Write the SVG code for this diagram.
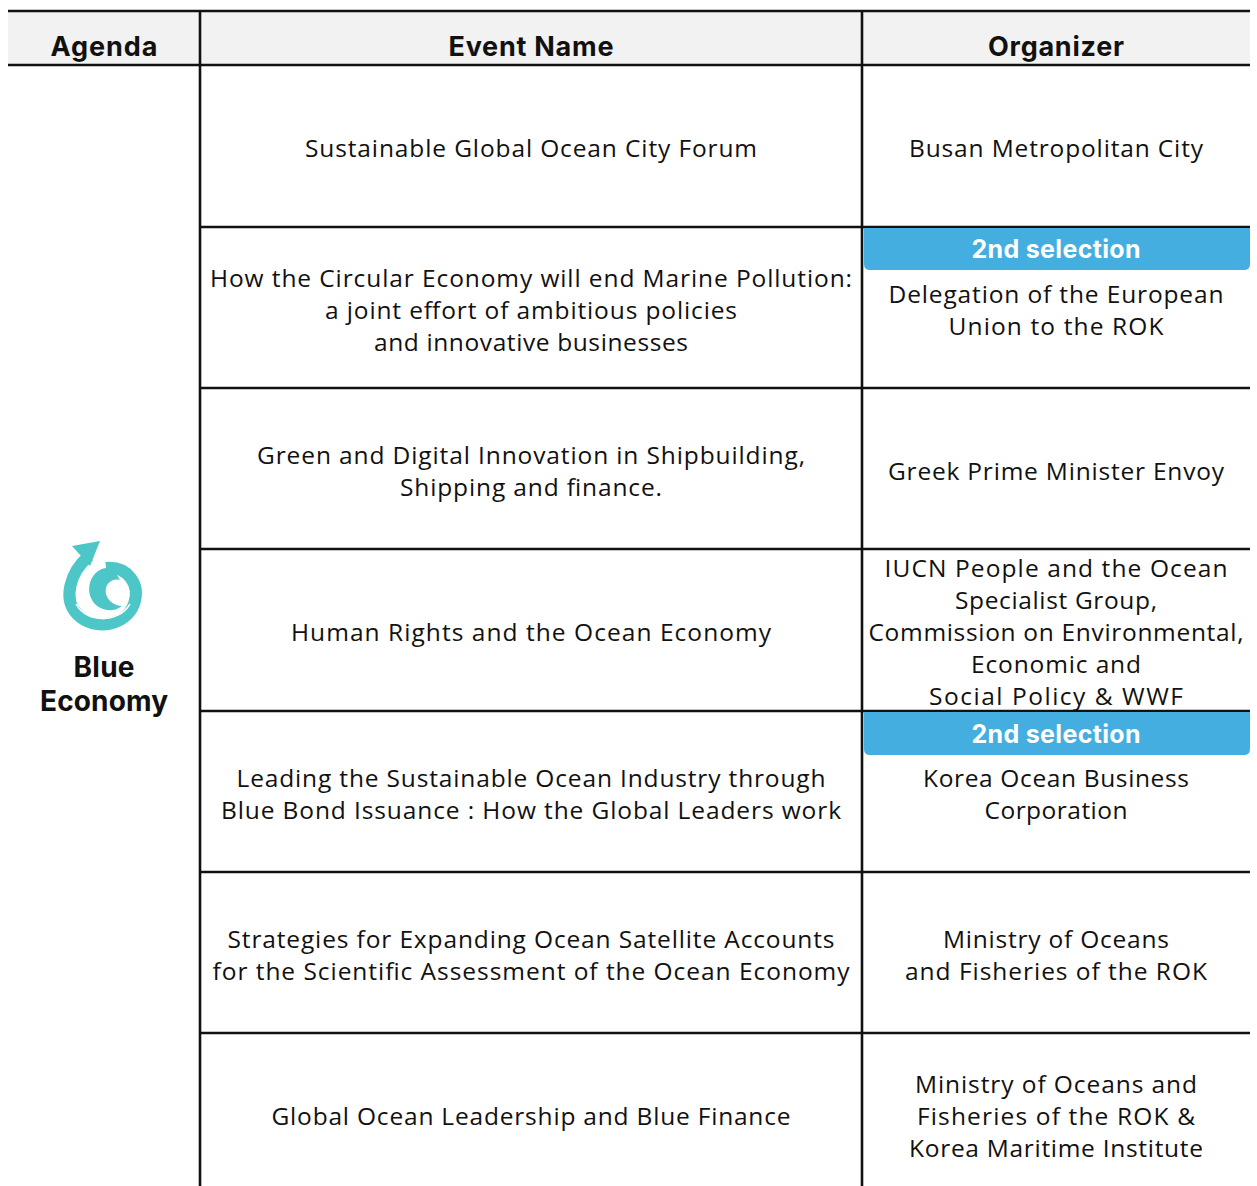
<svg xmlns="http://www.w3.org/2000/svg" width="1257" height="1186" viewBox="0 0 1257 1186">
<style>
.hd{font-family:Inter,"Liberation Sans",sans-serif;font-weight:700;font-size:27px;fill:#111;text-anchor:middle}
.tx{font-family:"Open Sans","Noto Sans",sans-serif;font-size:24.5px;fill:#111;text-anchor:middle}
.bd{font-family:Inter,"Liberation Sans",sans-serif;font-weight:700;font-size:25px;fill:#fff;text-anchor:middle}
.ag{font-family:Inter,"Liberation Sans",sans-serif;font-weight:700;font-size:28px;fill:#111;text-anchor:middle}
.ln{stroke:#111;stroke-width:2.6;fill:none}
.badge{fill:#45aee0}
</style>
<rect x="0" y="0" width="1257" height="1186" fill="#fff"/>
<rect x="8" y="10" width="1242" height="55" fill="#f2f2f2"/>
<g id="grid">
<line class="ln" x1="8" y1="11" x2="1250" y2="11"/>
<line class="ln" x1="8" y1="65" x2="1250" y2="65"/>
<line class="ln" x1="200" y1="10" x2="200" y2="1186"/>
<line class="ln" x1="862" y1="10" x2="862" y2="1186"/>
<line class="ln" x1="200" y1="227" x2="1250" y2="227"/>
<line class="ln" x1="200" y1="388" x2="1250" y2="388"/>
<line class="ln" x1="200" y1="549" x2="1250" y2="549"/>
<line class="ln" x1="200" y1="711" x2="1250" y2="711"/>
<line class="ln" x1="200" y1="872" x2="1250" y2="872"/>
<line class="ln" x1="200" y1="1033" x2="1250" y2="1033"/>
</g>
<g id="header">
<text class="hd" x="104" y="56" textLength="107">Agenda</text>
<text class="hd" x="531" y="56" textLength="165">Event Name</text>
<text class="hd" x="1056" y="56" textLength="136">Organizer</text>
</g>
<g id="agenda">
<g id="icon" fill="#4cc6c6">
<path d="M89 556 C70 572 62 600 78 615 C94 631 126 626 134 604 C141 584 127 566 106 568" stroke="#4cc6c6" stroke-width="12" fill="none"/>
<polygon points="100,541 72,546 90,566"/>
<path d="M106 568 C92 570 86 586 91 598 C96 610 112 614 122 606 C116 606 108 602 106 594 C104 584 112 578 120 580 C116 572 112 569 106 568 Z"/>
<circle cx="113" cy="591" r="5" fill="#fff"/>
<path d="M76 604 C86 623 118 624 130 604" stroke="#fff" stroke-width="1.5" fill="none"/>
</g>
<text class="ag" x="104" y="677" textLength="61">Blue</text>
<text class="ag" x="104" y="711" textLength="128">Economy</text>
</g>
<g id="row1">
<text class="tx" x="531" y="157" textLength="452">Sustainable Global Ocean City Forum</text>
<text class="tx" x="1056" y="157" textLength="294">Busan Metropolitan City</text>
</g>
<g id="row2">
<text class="tx" x="531" y="287" textLength="642">How the Circular Economy will end Marine Pollution:</text>
<text class="tx" x="531" y="319" textLength="412">a joint effort of ambitious policies</text>
<text class="tx" x="531" y="351" textLength="314">and innovative businesses</text>
<path class="badge" d="M864 228 H1250 V264 Q1250 270 1244 270 H870 Q864 270 864 264 Z"/>
<text class="bd" x="1056" y="258" textLength="169">2nd selection</text>
<text class="tx" x="1056" y="303" textLength="335">Delegation of the European</text>
<text class="tx" x="1056" y="335" textLength="215">Union to the ROK</text>
</g>
<g id="row3">
<text class="tx" x="531" y="464" textLength="548">Green and Digital Innovation in Shipbuilding,</text>
<text class="tx" x="531" y="496" textLength="262">Shipping and finance.</text>
<text class="tx" x="1056" y="480" textLength="336">Greek Prime Minister Envoy</text>
</g>
<g id="row4">
<text class="tx" x="531" y="641" textLength="480">Human Rights and the Ocean Economy</text>
<text class="tx" x="1056" y="577" textLength="343">IUCN People and the Ocean</text>
<text class="tx" x="1056" y="609" textLength="202">Specialist Group,</text>
<text class="tx" x="1056" y="641" textLength="375">Commission on Environmental,</text>
<text class="tx" x="1056" y="673" textLength="170">Economic and</text>
<text class="tx" x="1056" y="705" textLength="254">Social Policy &amp; WWF</text>
</g>
<g id="row5">
<text class="tx" x="531" y="787" textLength="589">Leading the Sustainable Ocean Industry through</text>
<text class="tx" x="531" y="819" textLength="620">Blue Bond Issuance : How the Global Leaders work</text>
<path class="badge" d="M864 712 H1250 V749 Q1250 755 1244 755 H870 Q864 755 864 749 Z"/>
<text class="bd" x="1056" y="743" textLength="169">2nd selection</text>
<text class="tx" x="1056" y="787" textLength="266">Korea Ocean Business</text>
<text class="tx" x="1056" y="819" textLength="143">Corporation</text>
</g>
<g id="row6">
<text class="tx" x="531" y="948" textLength="607">Strategies for Expanding Ocean Satellite Accounts</text>
<text class="tx" x="531" y="980" textLength="637">for the Scientific Assessment of the Ocean Economy</text>
<text class="tx" x="1056" y="948" textLength="226">Ministry of Oceans</text>
<text class="tx" x="1056" y="980" textLength="302">and Fisheries of the ROK</text>
</g>
<g id="row7">
<text class="tx" x="531" y="1125" textLength="519">Global Ocean Leadership and Blue Finance</text>
<text class="tx" x="1056" y="1093" textLength="282">Ministry of Oceans and</text>
<text class="tx" x="1056" y="1125" textLength="278">Fisheries of the ROK &amp;</text>
<text class="tx" x="1056" y="1157" textLength="294">Korea Maritime Institute</text>
</g>
</svg>
